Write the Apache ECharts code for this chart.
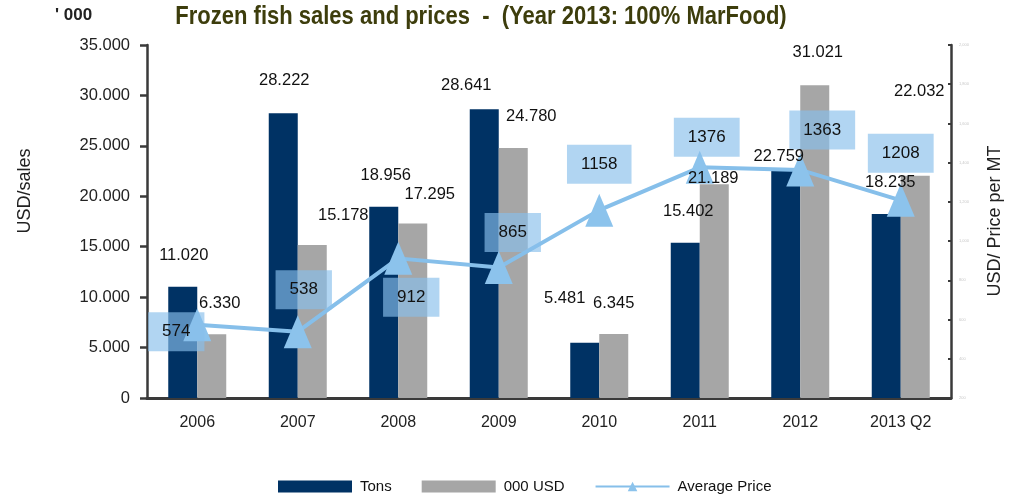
<!DOCTYPE html>
<html>
<head>
<meta charset="utf-8">
<script src="https://cdn.jsdelivr.net/npm/echarts@6/dist/echarts.min.js"></script>
<style>
  html, body { margin: 0; padding: 0; background: #fff; }
  #chart { width: 1013px; height: 501px; }
</style>
</head>
<body>
<div id="chart"></div>
<script>
// 数据
var years = ['2006', '2007', '2008', '2009', '2010', '2011', '2012', '2013 Q2'];
var tons = [11020, 28222, 18956, 28641, 5481, 15402, 22759, 18235];
var usd = [6330, 15178, 17295, 24780, 6345, 21189, 31021, 22032];
var avgPrice = [574, 538, 912, 865, 1158, 1376, 1363, 1208];

// 标签偏移 (原图中标签是手动摆放的)
var tonsShift = [[1, -23], [1, -24], [2, -23], [-18, -15], [-20, -36], [3, -23], [-7, -4], [4, -23]];
var usdShift = [[8, -22], [31, -21], [17, -21], [18, -23], [0, -22], [-1, 3], [3, -24], [4, -76]];
var priceShift = [[-21, 7], [6, -42], [13, 39], [14, -35], [0, -46], [7, -30], [22, -40], [0, -47]];

var FONT = "'Liberation Sans', Arial, sans-serif";

// 35000 -> 35.000
let fmt = (v) => String(v).replace(/\B(?=(\d{3})+(?!\d))/g, '.');

let withShift = (values, shift) => values.map((v, i) => ({
    value: v,
    label: { offset: shift[i] }
}));

let barLabel = {
    show: true, position: 'top', distance: 0, fontSize: 16.5, color: '#111',
    formatter: p => fmt(p.value)
};

let chart = echarts.init(document.getElementById('chart'));

let option = {
    animation: false,
    textStyle: { fontFamily: FONT },
    grid: { left: 147, right: 62, top: 45, bottom: 103 },
    legend: {
        left: 273,
        top: 474,
        itemWidth: 74,
        itemHeight: 12,
        itemGap: 30,
        textStyle: { fontSize: 15, color: '#111', padding: [0, 0, 0, 3] },
        data: [
            { name: 'Tons', icon: 'rect' },
            { name: '000 USD', icon: 'rect' },
            'Average Price'
        ]
    },
    graphic: [
        {
            // 标题字体在原图中是窄高的, 用纵向拉伸近似
            type: 'text', x: 481, y: 17, scaleY: 1.15,
            style: {
                text: 'Frozen fish sales and prices  -  (Year 2013: 100% MarFood)',
                font: "bold 22px 'Liberation Sans', sans-serif",
                fill: '#3d3d0c', textAlign: 'center', textVerticalAlign: 'middle'
            }
        },
        {
            type: 'text', x: 55, y: 15,
            style: { text: "' 000", font: "bold 17px 'Liberation Sans', sans-serif", fill: '#222', textVerticalAlign: 'middle' }
        },
        {
            type: 'text', x: 25, y: 191, rotation: Math.PI / 2,
            style: {
                text: 'USD/sales', font: "18px 'Liberation Sans', sans-serif", fill: '#222',
                textAlign: 'center', textVerticalAlign: 'middle'
            }
        },
        {
            type: 'text', x: 995, y: 221, rotation: Math.PI / 2,
            style: {
                text: 'USD/ Price per MT', font: "18px 'Liberation Sans', sans-serif", fill: '#222',
                textAlign: 'center', textVerticalAlign: 'middle'
            }
        }
    ],
    xAxis: [
        {
            type: 'category',
            data: years,
            axisLine: { lineStyle: { color: '#3a3a3a', width: 3 } },
            axisTick: { inside: true, length: 8, lineStyle: { color: '#3a3a3a', width: 2.5 } },
            axisLabel: { fontSize: 16, color: '#222', margin: 17 }
        },
        // 隐藏轴, 只用来放柱子标签 (让标签盖在折线上面)
        { type: 'category', data: years, show: false }
    ],
    yAxis: [
        {
            type: 'value',
            min: 0,
            max: 35000,
            interval: 5000,
            splitLine: { show: false },
            axisLine: { show: true, lineStyle: { color: '#3a3a3a', width: 2.5 } },
            axisTick: { show: true, length: 7, lineStyle: { color: '#3a3a3a', width: 2.5 } },
            axisLabel: { fontSize: 16.5, color: '#222', margin: 17, formatter: fmt }
        },
        {
            type: 'value',
            min: 200,
            max: 2000,
            interval: 200,
            position: 'right',
            splitLine: { show: false },
            axisLine: { show: true, lineStyle: { color: '#3a3a3a', width: 2.5 } },
            axisTick: { show: true, inside: true, length: 3, lineStyle: { color: '#3a3a3a', width: 2 } },
            axisLabel: { fontSize: 4, color: '#c8c8c8', margin: 8 }
        }
    ],
    series: [
        {
            name: 'Tons',
            type: 'bar',
            barWidth: 29,
            barGap: '0%',
            itemStyle: { color: '#003264' },
            data: tons
        },
        {
            name: '000 USD',
            type: 'bar',
            barWidth: 29,
            itemStyle: { color: '#a6a6a6' },
            data: usd
        },
        {
            name: 'Average Price',
            type: 'line',
            yAxisIndex: 1,
            symbol: 'triangle',
            symbolSize: [28, 33],
            itemStyle: { color: '#8cc3ec' },
            lineStyle: { color: '#86bfea', width: 4 },
            label: {
                show: true,
                position: 'inside',
                fontSize: 17,
                color: '#111',
                backgroundColor: 'rgba(135,190,235,0.65)',
                padding: [11, 14]
            },
            data: withShift(avgPrice, priceShift)
        },
        {
            name: 'tonsLabel',
            type: 'bar',
            xAxisIndex: 1,
            z: 10,
            silent: true,
            barWidth: 29,
            barGap: '0%',
            itemStyle: { color: 'rgba(0,0,0,0)' },
            label: barLabel,
            data: withShift(tons, tonsShift)
        },
        {
            name: 'usdLabel',
            type: 'bar',
            xAxisIndex: 1,
            z: 10,
            silent: true,
            barWidth: 29,
            itemStyle: { color: 'rgba(0,0,0,0)' },
            label: barLabel,
            data: withShift(usd, usdShift)
        }
    ]
};

chart.setOption(option);
</script>
</body>
</html>
